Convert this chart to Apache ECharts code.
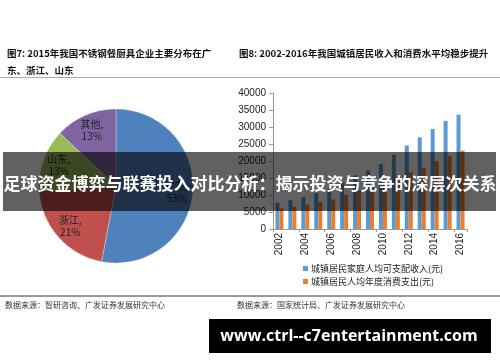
<!DOCTYPE html>
<html>
<head>
<meta charset="utf-8">
<script src="https://cdn.jsdelivr.net/npm/echarts@6/dist/echarts.min.js"></script>
<style>
html,body{margin:0;padding:0;background:#fff;}
#c{width:500px;height:362px;}
</style>
</head>
<body>
<div id="c"></div>
<script>
// ---- data ----
var pieNames = ['广东', '浙江', '山东', '其他'];
var pieValues = [53, 21, 13, 13];
var years = ['2002','2003','2004','2005','2006','2007','2008','2009','2010','2011','2012','2013','2014','2015','2016'];
var income = [7703, 8472, 9422, 10493, 11759, 13786, 15781, 17175, 19109, 21810, 24565, 26955, 29381, 31790, 33616];
var consumption = [6030, 6511, 7182, 7943, 8697, 9997, 11243, 12265, 13471, 15161, 16674, 18023, 19968, 21392, 23079];
var seriesNames = ['城镇居民家庭人均可支配收入(元)', '城镇居民人均年度消费支出(元)'];
var yTicks = {min: 0, max: 40000, interval: 5000};
var title7a = '图7: 2015年我国不锈钢餐厨具企业主要分布在广';
var title7b = '东、浙江、山东';
var title8 = '图8: 2002-2016年我国城镇居民收入和消费水平均稳步提升';
var source7 = '数据来源：智研咨询、广发证券发展研究中心';
var source8 = '数据来源：国家统计局、广发证券发展研究中心';
var bannerText = '足球资金博弈与联赛投入对比分析：揭示投资与竞争的深层次关系';
var watermark = 'www.ctrl--c7entertainment.com';

var FONT = '"Noto Sans CJK SC", "Noto Sans", sans-serif';
var pieColors = ['#4F81BD', '#C0504D', '#9BBB59', '#8064A2'];
var pieData = pieNames.map(function (n, i) {
  return {name: n, value: pieValues[i], itemStyle: {color: pieColors[i]}};
});

var chart = echarts.init(document.getElementById('c'), null, {renderer: 'canvas'});
chart.setOption({
  animation: false,
  backgroundColor: '#fff',
  textStyle: {fontFamily: FONT},
  grid: {left: 273, right: 33, top: 93, bottom: 133, containLabel: false},
  legend: {
    orient: 'vertical', left: 298, top: 259, itemWidth: 5, itemHeight: 5, itemGap: 4,
    icon: 'rect', data: seriesNames,
    textStyle: {fontSize: 9, color: '#222', fontFamily: FONT, padding: [0, 0, 0, -2]}
  },
  xAxis: {
    type: 'category', data: years,
    axisLine: {lineStyle: {color: '#999'}},
    axisTick: {show: true, length: 3, lineStyle: {color: '#999'}},
    axisLabel: {rotate: 90, fontSize: 10, color: '#222', margin: 4, fontFamily: 'Liberation Sans, Arial, sans-serif'}
  },
  yAxis: {
    type: 'value', min: yTicks.min, max: yTicks.max, interval: yTicks.interval,
    axisLine: {show: true, lineStyle: {color: '#999'}},
    axisTick: {show: true, length: 4, lineStyle: {color: '#999'}},
    splitLine: {show: false},
    axisLabel: {fontSize: 10, color: '#222', margin: 7, fontFamily: 'Liberation Sans, Arial, sans-serif',
      formatter: function (v) { return String(v); }}
  },
  series: [
    {
      type: 'pie', center: [116, 186], radius: 77, startAngle: 90, clockwise: true,
      data: pieData, label: {show: false}, labelLine: {show: false}, silent: true,
      itemStyle: {borderColor: 'rgba(255,255,255,0.6)', borderWidth: 0.5}
    },
    {
      type: 'pie', center: [116, 186], radius: [39, 77], startAngle: 90, clockwise: true,
      data: pieNames.map(function (n, i) { return {name: n, value: pieValues[i]}; }),
      itemStyle: {color: 'rgba(0,0,0,0)'}, silent: true, labelLine: {show: false},
      label: {show: true, position: 'inside', formatter: '{b},\n{c}%', fontSize: 10, lineHeight: 12, color: '#222', fontFamily: FONT}
    },
    {
      name: seriesNames[0], type: 'bar', data: income, barWidth: 4, barGap: '0%',
      itemStyle: {color: '#5B9BD5'}
    },
    {
      name: seriesNames[1], type: 'bar', data: consumption, barWidth: 4, barGap: '0%',
      itemStyle: {color: '#ED7D31'}
    }
  ],
  graphic: [
    {type: 'text', left: 7, top: 49, z: 50, style: {text: title7a, font: 'bold 9.5px ' + FONT, fill: '#111'}},
    {type: 'text', left: 7, top: 66, z: 50, style: {text: title7b, font: 'bold 9.5px ' + FONT, fill: '#111'}},
    {type: 'text', left: 239, top: 49, z: 50, style: {text: title8, font: 'bold 9.5px ' + FONT, fill: '#111'}},
    {type: 'rect', z: 50, shape: {x: 0, y: 77, width: 500, height: 1}, style: {fill: '#aaa'}},
    {type: 'rect', z: 50, shape: {x: 0, y: 295, width: 500, height: 2}, style: {fill: '#999'}},
    {type: 'text', left: 5, top: 301, z: 50, style: {text: source7, font: '8px ' + FONT, fill: '#333'}},
    {type: 'text', left: 237, top: 301, z: 50, style: {text: source8, font: '8px ' + FONT, fill: '#333'}},
    {type: 'rect', z: 100, shape: {x: 3, y: 152, width: 493, height: 59}, style: {fill: 'rgba(0,0,0,0.62)'}},
    {type: 'text', z: 101, x: 250, y: 184, style: {text: bannerText, font: 'bold 17px ' + FONT, fill: '#fff', textAlign: 'center', textVerticalAlign: 'middle'}},
    {type: 'rect', z: 100, shape: {x: 209, y: 319, width: 282, height: 34}, style: {fill: '#000'}},
    {type: 'text', z: 101, x: 349, y: 336, style: {text: watermark, font: 'bold 16px "Open Sans", sans-serif', fill: '#fff', textAlign: 'center', textVerticalAlign: 'middle'}}
  ]
});
</script>
</body>
</html>
